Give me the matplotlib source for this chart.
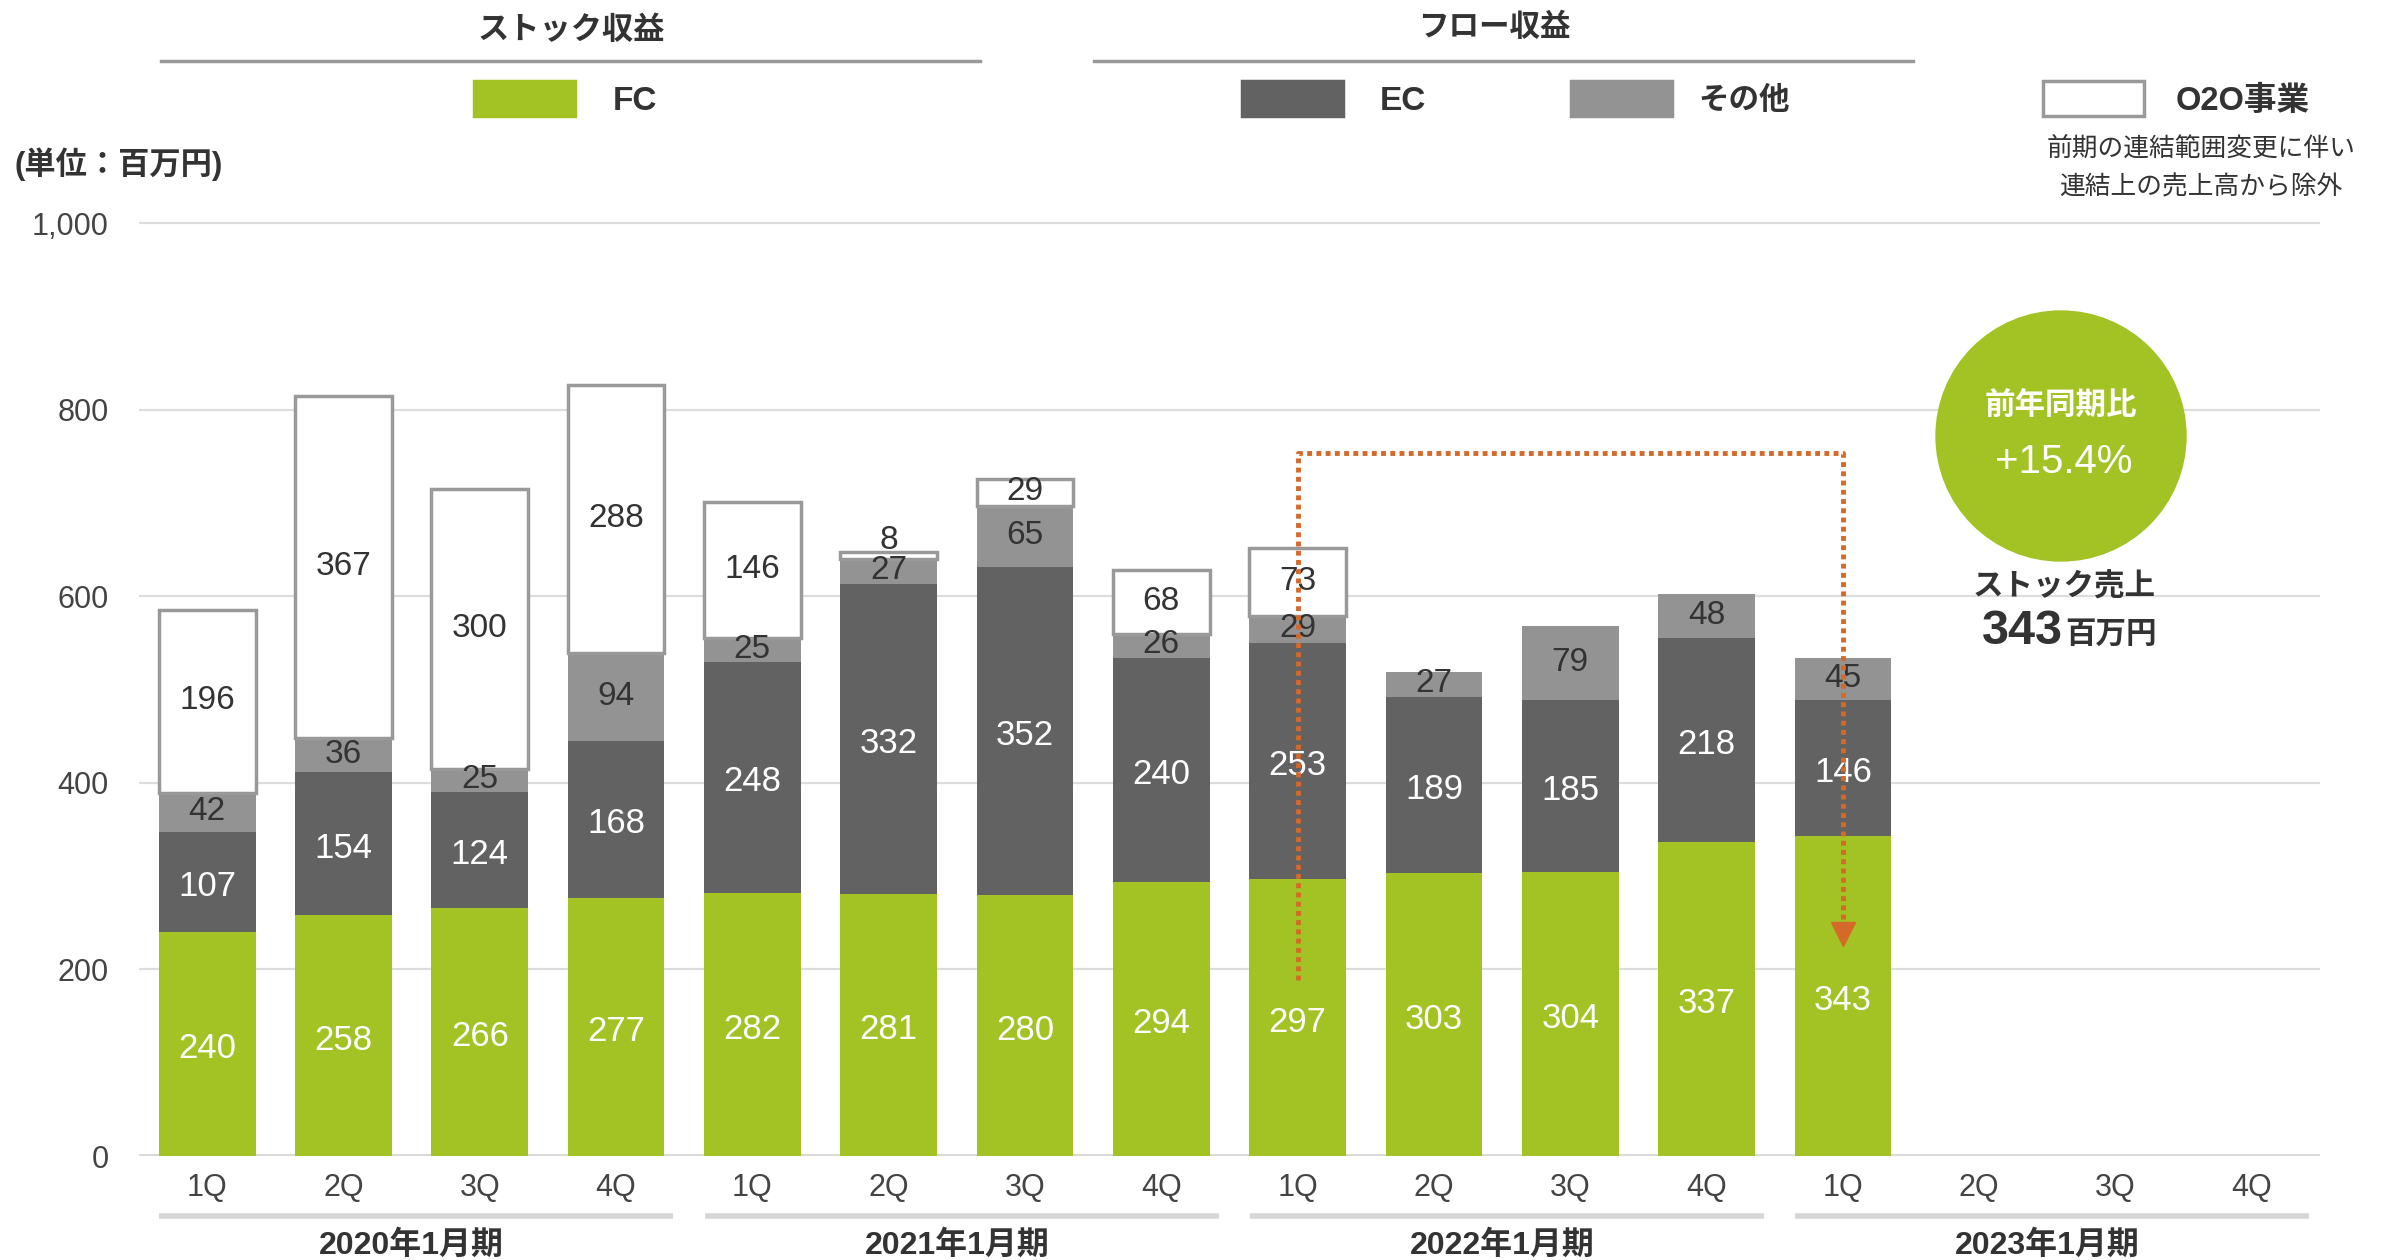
import matplotlib
matplotlib.use("Agg")
import matplotlib.pyplot as plt
from matplotlib.patches import Rectangle, Circle
from matplotlib.lines import Line2D
import numpy as np

plt.rcParams['font.family'] = ['Liberation Sans', 'Noto Sans CJK JP', 'DejaVu Sans']

# data (百万円)
quarters = ['1Q', '2Q', '3Q', '4Q'] * 4
periods = ['2020年1月期', '2021年1月期', '2022年1月期', '2023年1月期']
fc = [240, 258, 266, 277, 282, 281, 280, 294, 297, 303, 304, 337, 343]
ec = [107, 154, 124, 168, 248, 332, 352, 240, 253, 189, 185, 218, 146]
other = [42, 36, 25, 94, 25, 27, 65, 26, 29, 27, 79, 48, 45]
o2o = [196, 367, 300, 288, 146, 8, 29, 68, 73]
yoy_text = '+15.4%'
stock_sales = 343

GREEN = '#a3c224'
EC_C = '#626262'
OTH_C = '#939393'
EDGE = '#999999'
TXT = '#333333'
ORANGE = '#d4692a'

W, H = 2383, 1260
fig = plt.figure(figsize=(W / 100, H / 100), dpi=100)
ax = fig.add_axes([139 / W, 1 - 1156 / H, (2320 - 139) / W, (1156 - 214) / H])


def fy(py):
    # pixel row (from top) -> figure fraction, small shift for text baseline
    return 1 - (py + 3) / H


fc = np.array(fc)
ec = np.array(ec)
other = np.array(other)
o2o = np.array(o2o)
x = np.arange(len(fc))
bw = 0.71

b2 = fc + ec
b3 = b2 + other
ax.bar(x, fc, bw, color=GREEN, zorder=3)
ax.bar(x, ec, bw, bottom=fc, color=EC_C, zorder=3)
ax.bar(x, other, bw, bottom=b2, color=OTH_C, zorder=3)
xo = np.arange(len(o2o))
ax.bar(xo, o2o, bw, bottom=b3[:len(o2o)], color='white', edgecolor=EDGE,
       linewidth=2.5, zorder=3)

lab_fs = 25
dy = -5
for i in x:
    ax.text(i, fc[i] / 2 + dy, str(fc[i]), ha='center', va='center', color='white',
            fontsize=lab_fs, zorder=5)
    ax.text(i, fc[i] + ec[i] / 2 + dy, str(ec[i]), ha='center', va='center',
            color='white', fontsize=lab_fs, zorder=5)
    ax.text(i, b2[i] + other[i] / 2 + 1, str(other[i]), ha='center', va='center',
            color=TXT, fontsize=lab_fs - 1, zorder=5)
for i in xo:
    if o2o[i] < 15:
        ax.text(i, b3[i] + o2o[i] + 12, str(o2o[i]), ha='center', va='center',
                color=TXT, fontsize=lab_fs - 1, zorder=5)
    else:
        ax.text(i, b3[i] + o2o[i] / 2 + 1, str(o2o[i]), ha='center', va='center',
                color=TXT, fontsize=lab_fs - 1, zorder=5)

# axes
ax.set_xlim(-0.5, 15.5)
ax.set_ylim(0, 1010)
ax.set_yticks(range(0, 1001, 200))
ax.set_yticklabels(['0', '200', '400', '600', '800', '1,000'])
ax.set_xticks(range(16))
ax.set_xticklabels(quarters)
ax.tick_params(axis='y', length=0, pad=22, labelsize=22, labelcolor='#444444')
ax.tick_params(axis='x', length=0, pad=12, labelsize=22, labelcolor='#444444')
for s in ax.spines.values():
    s.set_visible(False)
ax.grid(axis='y', color='#dddddd', lw=1.6, zorder=0)
ax.set_axisbelow(True)
ax.axhline(0, color='#d9d9d9', lw=3.5, zorder=1)

# fiscal year groups
xt = ax.get_xaxis_transform()
for g, name in enumerate(periods):
    ax.plot([4 * g - 0.35, 4 * g + 3.42], [-0.064, -0.064], transform=xt,
            color='#d6d6d6', lw=4, clip_on=False, solid_capstyle='butt')
    ax.text(4 * g + 1.5, -0.095, name, transform=xt, ha='center', va='center',
            fontsize=23, fontweight='bold', color=TXT)

# orange yoy arrow
ax.plot([8, 8, 12, 12], [189, 754, 754, 248], color=ORANGE, lw=3.5,
        linestyle=(0, (1, 0.9)), dash_capstyle='butt', zorder=6)
ax.plot(12, 238, marker='v', ms=17, color=ORANGE, zorder=6)

# legend headers
fig.text(571 / W, fy(28), 'ストック収益', ha='center', va='center',
         fontsize=22.5, fontweight='bold', color=TXT)
fig.text(1494 / W, fy(25), 'フロー収益', ha='center', va='center',
         fontsize=22, fontweight='bold', color=TXT)
for x0, x1 in [(161, 980), (1094, 1913)]:
    fig.add_artist(Line2D([x0 / W, x1 / W], [1 - 61 / H, 1 - 61 / H],
                          transform=fig.transFigure, color=EDGE, lw=2.5))

legend_items = [(474, 613, GREEN, 'FC', 24), (1242, 1380, EC_C, 'EC', 24),
                (1571, 1698, OTH_C, 'その他', 22), (2043, 2176, 'white', 'O2O事業', 23.5)]
for px, tx, col, name, fs in legend_items:
    ec_col = EDGE if col == 'white' else col
    fig.patches.append(Rectangle((px / W, 1 - 116 / H), 101 / W, 35 / H,
                                 transform=fig.transFigure, facecolor=col,
                                 edgecolor=ec_col, lw=2.5))
    fig.text(tx / W, fy(98), name, ha='left', va='center', fontsize=fs,
             fontweight='bold', color=TXT)

fig.text(2201 / W, fy(146), '前期の連結範囲変更に伴い', ha='center',
         va='center', fontsize=18.5, color=TXT)
fig.text(2201 / W, fy(184), '連結上の売上高から除外', ha='center',
         va='center', fontsize=18.5, color=TXT)
fig.text(15 / W, fy(161), '(単位：百万円)', ha='left', va='center',
         fontsize=22.5, fontweight='bold', color=TXT)

# yoy circle
fig.patches.append(Circle((20.61, 12.6 - 4.36), 1.25,
                          transform=fig.dpi_scale_trans, color=GREEN, zorder=5))
fig.text(2061 / W, fy(403), '前年同期比', ha='center', va='center',
         fontsize=22, fontweight='bold', color='white', zorder=6)
fig.text(2064 / W, fy(459), yoy_text, ha='center', va='center',
         fontsize=29, color='white', zorder=6)
fig.text(2064 / W, fy(585), 'ストック売上', ha='center', va='center',
         fontsize=22, fontweight='bold', color=TXT, zorder=6)
fig.text(2063 / W, fy(629), str(stock_sales), ha='right', va='center',
         fontsize=35, fontweight='bold', color=TXT, zorder=6)
fig.text(2065 / W, fy(632), '百万円', ha='left', va='center',
         fontsize=22, fontweight='bold', color=TXT, zorder=6)

fig.savefig('out.png', dpi=100)
